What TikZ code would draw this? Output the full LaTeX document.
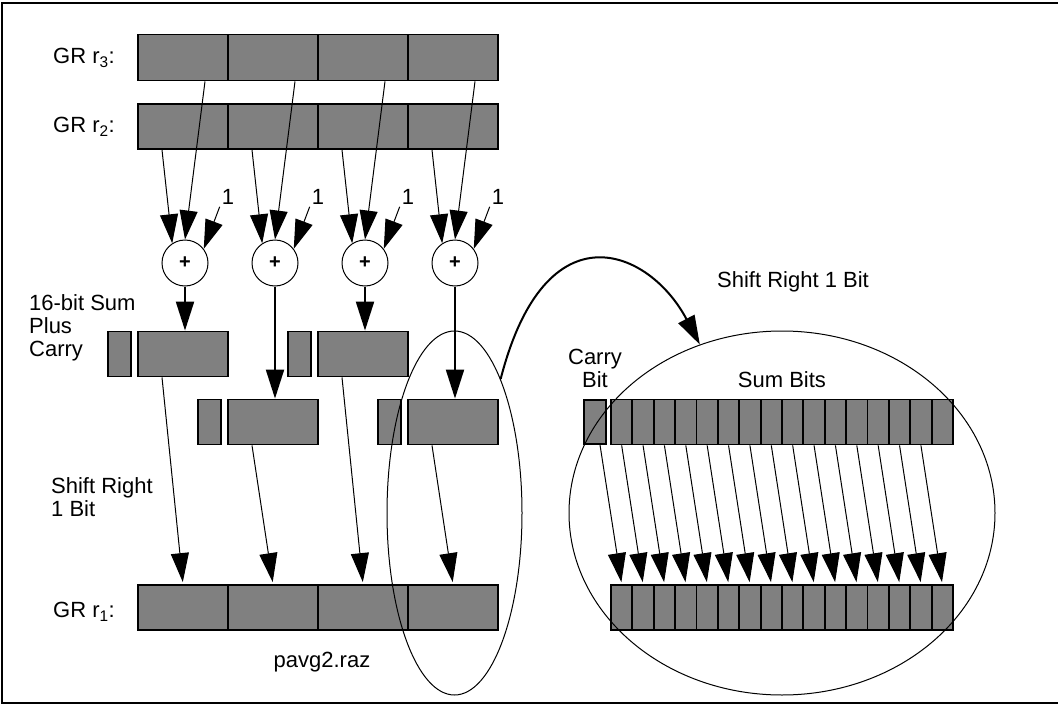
\documentclass[tikz,border=0pt]{standalone}
\usepackage{fontspec}
\setmainfont{Liberation Sans}
\usetikzlibrary{arrows.meta,positioning,shapes.geometric}
\definecolor{regfill}{HTML}{808080}
\tikzset{
  every node/.style={font=\fontsize{22}{23}\selectfont,inner sep=2pt},
  cell/.style={draw,line width=1.8pt,fill=regfill,minimum width=90pt,minimum height=46pt,inner sep=0pt},
  carrybox/.style={cell,minimum width=23pt},
  bitbox/.style={cell,minimum width=21.375pt,minimum height=45pt},
  adder/.style={circle,draw,line width=1pt,minimum size=46pt,inner sep=0pt,font=\fontsize{20}{20}\selectfont\bfseries},
  lens/.style={ellipse,draw,line width=1pt,inner sep=0pt},
  arrow/.style={-{Triangle[length=29pt,width=18pt]},line width=1pt},
  thickarr/.style={arrow,line width=2pt},
}

\begin{document}
\begin{tikzpicture}[x=1pt,y=-1pt]
\useasboundingbox (0,0) rectangle (1058,704);
\draw[line width=2pt] (1058,3) -- (2,3) -- (2,703) -- (1058,703);

\foreach \i in {1,...,4}{
  \node[cell] (r3c\i) at ({93+90*\i},57.5) {};
  \node[cell,minimum height=45pt] (r2c\i) at ({93+90*\i},126.5) {};
  \node[cell,minimum height=45pt] (r1c\i) at ({93+90*\i},607.5) {};
  \node[adder] (ad\i) at ({95+90*\i},263) {+};
  \node (one\i) at ({138+90*\i},197) {1};
}
\foreach \i/\y in {1/354,2/422,3/354,4/422}{
  \node[cell,minimum height=45pt] (s\i) at ({93+90*\i},\y) {};
  \node[carrybox,minimum height=45pt,left=5pt of s\i] (c\i) {};
}

\node[anchor=east] (gr3) at (117,58) {GR r\textsubscript{3}:};
\node[anchor=east] (gr2) at (117,127) {GR r\textsubscript{2}:};
\node[anchor=east] (gr1) at (117,612) {GR r\textsubscript{1}:};
\node[anchor=north west,align=left] (sumlbl) at (27,292) {16-bit Sum\\Plus\\Carry};
\node[anchor=north west,align=left] (shiftlbl) at (49,475) {Shift Right\\1 Bit};
\node (pavg) at (322,662) {pavg2.raz};
\node (shifttop) at (793,282) {Shift Right 1 Bit};
\node[align=center] (carrylbl) at (595,368) {Carry\\Bit};
\node (sumbits) at (782,380) {Sum Bits};

\node[cell,minimum width=22pt,minimum height=44pt] (cb) at (595,422) {};
\foreach \i in {1,...,16}{
  \node[bitbox] (t\i) at ({600.3+21.375*\i},422) {};
  \node[bitbox] (b\i) at ({600.3+21.375*\i},607.5) {};
}

\foreach \i in {1,...,4}{
  \draw[arrow] ([xshift=-21pt]r2c\i.south) -- (ad\i.123);
  \draw[arrow] ([xshift=22pt]r3c\i.south) -- (ad\i.north);
  \draw[arrow] (one\i.south west) -- (ad\i.37);
  \draw[thickarr] (ad\i.south) -- (ad\i.south |- s\i.north);
  \draw[arrow,shorten >=2pt] ([xshift=-21pt]s\i.south) -- (r1c\i.north);
}
\draw[arrow,shorten >=2pt] ([xshift=5pt]cb.south) -- (b1.north);
\foreach \i [count=\j from 2] in {1,...,15}
  \draw[arrow,shorten >=2pt] (t\i.south) -- (b\j.north);

\node[lens,minimum width=135pt,minimum height=364pt] (lensL) at (454.5,513) {};
\node[lens,minimum width=426pt,minimum height=364pt] (lensR) at (782,513) {};
\draw[thickarr] (lensL.71) .. controls +(45,-175) and +(-50,-95) .. (lensR.116.6);

\end{tikzpicture}
\end{document}
